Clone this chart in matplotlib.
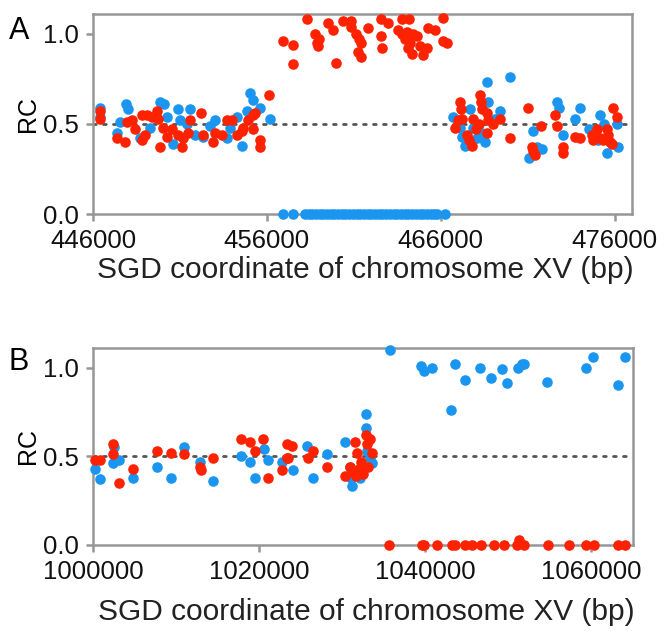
import matplotlib
matplotlib.use("Agg")
import matplotlib.pyplot as plt

plt.rcParams['font.family'] = ['Liberation Sans', 'DejaVu Sans']

# ---------------- Panel A data ----------------
a_blue_x = [446400, 446400, 447380, 447900, 448010, 448700, 449850, 450080, 450250, 450600,
            450890, 451000, 451580, 451400, 452330, 453010, 453700, 454280, 454570, 454860,
            455030, 455200, 455600, 456180, 449280, 451870, 453880, 447550, 452730,
            # zero stretch
            456930, 457500, 458190, 458420, 458590, 458820, 459050, 459230, 459460, 459690,
            459860, 460090, 460320, 460490, 460720, 460950, 461180, 461350, 461580, 461810,
            461990, 462220, 462450, 462620, 462850, 463080, 463310, 463480, 463710, 463940,
            464110, 464340, 464570, 464800, 464980, 465210, 465440, 465610, 465780, 466240,
            # right cluster
            469980, 468660, 468710, 469400, 466700, 467100, 467250, 467390, 467680, 467850,
            468100, 468400, 468540, 469120, 471300, 471530, 471820, 471070, 472680, 472800,
            473030, 474000, 473720, 475150, 475040, 475560, 476190, 476130, 475400, 474500]
a_blue_y = [0.59, 0.54, 0.45, 0.61, 0.58, 0.42, 0.62, 0.61, 0.54, 0.39,
            0.58, 0.52, 0.58, 0.50, 0.43, 0.52, 0.42, 0.54, 0.38, 0.57,
            0.67, 0.63, 0.59, 0.53, 0.48, 0.44, 0.48, 0.51, 0.49,
            0.0, 0.0, 0.0, 0.0, 0.0, 0.0, 0.0, 0.0, 0.0, 0.0,
            0.0, 0.0, 0.0, 0.0, 0.0, 0.0, 0.0, 0.0, 0.0, 0.0,
            0.0, 0.0, 0.0, 0.0, 0.0, 0.0, 0.0, 0.0, 0.0, 0.0,
            0.0, 0.0, 0.0, 0.0, 0.0, 0.0, 0.0, 0.0, 0.0, 0.0,
            0.76, 0.73, 0.62, 0.57, 0.54, 0.48, 0.43, 0.38, 0.58, 0.48,
            0.42, 0.45, 0.40, 0.53, 0.46, 0.37, 0.36, 0.31, 0.62, 0.59,
            0.44, 0.59, 0.53, 0.55, 0.41, 0.34, 0.37, 0.50, 0.50, 0.47]

a_red_x = [446400, 446400, 447380, 447840, 447960, 448240, 448420, 448820, 449100, 449390,
           449680, 449740, 449000, 448820, 449850, 450030, 450250, 450540, 450890, 451120,
           451180, 451460, 451580, 452240, 452330, 452900, 453010, 453420, 453700, 453990,
           454280, 454570, 454630, 454910, 455200, 455320, 455200, 455600, 455600, 456120,
           # high stretch
           456930, 457500, 457500, 458300, 458770, 458900, 459000, 458950, 459500, 459800,
           459970, 460380, 460840, 460840, 461120, 461300, 461410, 461240, 461410, 461810,
           462560, 462960, 462560, 462620, 463770, 464170, 463540, 463770, 464050, 464400,
           464630, 463940, 464230, 464110, 464340, 464800, 465000, 465200, 465260, 465660,
           466120, 466120, 466350,
           # right cluster
           467100, 467150, 466800, 467250, 467000, 467500, 467650, 467800, 467850, 468200,
           468000, 468250, 468300, 468400, 468660, 468700, 468660, 469000, 469400, 469980,
           471000, 471760, 471240, 471420, 471300, 472570, 472680, 473030, 473030, 473720,
           474000, 474690, 474750, 474980, 475150, 475330, 475560, 475610, 475730, 475840,
           475900, 476130]
a_red_y = [0.57, 0.53, 0.42, 0.40, 0.51, 0.52, 0.47, 0.55, 0.55, 0.54,
           0.57, 0.53, 0.44, 0.41, 0.37, 0.48, 0.43, 0.47, 0.44, 0.37,
           0.42, 0.45, 0.52, 0.56, 0.44, 0.40, 0.45, 0.44, 0.52, 0.52,
           0.44, 0.46, 0.48, 0.52, 0.55, 0.56, 0.47, 0.41, 0.37, 0.66,
           0.96, 0.94, 0.83, 1.08, 1.00, 0.95, 0.97, 0.93, 1.06, 1.02,
           0.84, 1.07, 1.07, 1.04, 1.00, 0.97, 0.95, 0.90, 0.87, 1.03,
           1.08, 1.06, 0.99, 0.92, 1.08, 1.08, 1.02, 1.00, 1.01, 1.00,
           0.99, 0.97, 0.95, 0.92, 0.89, 0.93, 0.88, 0.92, 1.03, 1.02,
           1.09, 0.96, 0.95,
           0.62, 0.58, 0.48, 0.53, 0.52, 0.44, 0.41, 0.38, 0.53, 0.50,
           0.47, 0.66, 0.62, 0.58, 0.56, 0.52, 0.45, 0.50, 0.53, 0.42,
           0.59, 0.49, 0.37, 0.33, 0.35, 0.55, 0.49, 0.37, 0.34, 0.43,
           0.42, 0.44, 0.41, 0.47, 0.42, 0.41, 0.47, 0.44, 0.40, 0.39,
           0.59, 0.54]

# ---------------- Panel B data ----------------
b_blue_x = [1000240, 1000840, 1002410, 1002530, 1003130, 1004820, 1007710, 1009400, 1010970, 1012900,
            1014460, 1017830, 1018920, 1019520, 1020610, 1021090, 1022780, 1024100, 1025790, 1026510,
            1028200, 1030370, 1030970, 1031090, 1031210, 1032170, 1032900, 1032900, 1033020, 1033300,
            1033620,
            1035790, 1039520, 1039900, 1040850, 1043130, 1043620, 1044830, 1046630, 1047960, 1049290,
            1049890, 1051100, 1051580, 1051820, 1054590, 1059290, 1060130, 1063140, 1063990]
b_blue_y = [0.43, 0.37, 0.46, 0.55, 0.48, 0.38, 0.44, 0.38, 0.55, 0.47,
            0.36, 0.50, 0.47, 0.38, 0.54, 0.48, 0.47, 0.42, 0.56, 0.38,
            0.51, 0.58, 0.44, 0.38, 0.33, 0.38, 0.74, 0.66, 0.53, 0.49,
            0.46,
            1.10, 1.01, 0.98, 1.00, 0.76, 1.02, 0.93, 1.00, 0.94, 0.99,
            0.91, 1.00, 1.02, 1.02, 0.92, 1.00, 1.06, 0.90, 1.06]

b_red_x = [1000240, 1000840, 1002410, 1002410, 1003130, 1004820, 1007710, 1009400, 1010970, 1012900,
           1013010, 1014460, 1017830, 1018920, 1019520, 1020490, 1021090, 1022780, 1023370, 1023370,
           1023980, 1023500, 1025910, 1026510, 1028200, 1030370, 1030970, 1031330, 1031570, 1031690,
           1031810, 1032050, 1032530, 1032900, 1033020, 1033140, 1033380, 1033620, 1032290,
           1035670, 1039640, 1039880, 1041450, 1043260, 1043620, 1044830, 1045670, 1046750, 1048320,
           1049530, 1051090, 1051330, 1051820, 1054710, 1057240, 1059290, 1060250, 1063140, 1063990]
b_red_y = [0.48, 0.48, 0.57, 0.51, 0.35, 0.43, 0.53, 0.52, 0.51, 0.44,
           0.42, 0.49, 0.60, 0.58, 0.53, 0.60, 0.38, 0.42, 0.57, 0.49,
           0.56, 0.49, 0.49, 0.53, 0.44, 0.39, 0.44, 0.41, 0.58, 0.39,
           0.52, 0.43, 0.40, 0.62, 0.57, 0.44, 0.60, 0.52, 0.47,
           0.0, 0.0, 0.0, 0.0, 0.0, 0.0, 0.0, 0.0, 0.0, 0.0,
           0.0, 0.0, 0.03, 0.0, 0.0, 0.0, 0.0, 0.0, 0.0, 0.0]

a_xticks = [446000, 456000, 466000, 476000]
b_xticks = [1000000, 1020000, 1040000, 1060000]
yticks = [0.0, 0.5, 1.0]
ytick_labels = ['0.0', '0.5', '1.0']
xlabel = 'SGD coordinate of chromosome XV (bp)'

BLUE = '#1a96f0'
RED = '#ff2200'
GREY = '#969696'

fig = plt.figure(figsize=(6.64, 6.33), dpi=100)
axA = fig.add_axes([93/664, 1-214/633, (632-93)/664, (214-14)/633])
axB = fig.add_axes([93/664, 1-545/633, (633-93)/664, (545-348)/633])


def style(ax, xlim, xticks, label_y):
    ax.set_xlim(*xlim)
    ax.set_ylim(0.0, 1.11)
    ax.set_xticks(xticks)
    ax.set_xticklabels([str(t) for t in xticks])
    ax.set_yticks(yticks)
    ax.set_yticklabels(ytick_labels)
    for sp in ax.spines.values():
        sp.set_color(GREY)
        sp.set_linewidth(1.8)
    ax.tick_params(direction='out', length=5, width=1.8, color=GREY,
                   labelsize=18.5, labelcolor='#111111')
    ax.tick_params(axis='x', pad=6)
    ax.tick_params(axis='y', pad=5)
    ax.axhline(0.5, color='#555555', lw=2.0, ls=(0, (1, 2.6)), zorder=1,
               dash_capstyle='round')
    ax.set_ylabel('RC', fontsize=18)
    ax.yaxis.set_label_coords(-0.121, 0.5)
    ax.yaxis.label.set_va('center')
    ax.set_xlabel(xlabel, fontsize=21.5, color='#222222')
    ax.xaxis.set_label_coords(0.506, label_y)
    ax.xaxis.label.set_va('center')


style(axA, (446000, 477000), a_xticks, (214-270)/200)
style(axB, (1000000, 1065000), b_xticks, (545-612)/197)

ms = 58
axA.scatter(a_blue_x, a_blue_y, s=ms, color=BLUE, linewidths=0, zorder=3, clip_on=False)
axA.scatter(a_red_x, a_red_y, s=ms, color=RED, linewidths=0, zorder=4, clip_on=False)
axB.scatter(b_blue_x, b_blue_y, s=ms, color=BLUE, linewidths=0, zorder=3, clip_on=False)
axB.scatter(b_red_x, b_red_y, s=ms, color=RED, linewidths=0, zorder=4, clip_on=False)

fig.text(19/664, 1-31/633, 'A', fontsize=22, ha='center', va='center')
fig.text(19/664, 1-362/633, 'B', fontsize=22, ha='center', va='center')

fig.savefig('out.png', dpi=100)
